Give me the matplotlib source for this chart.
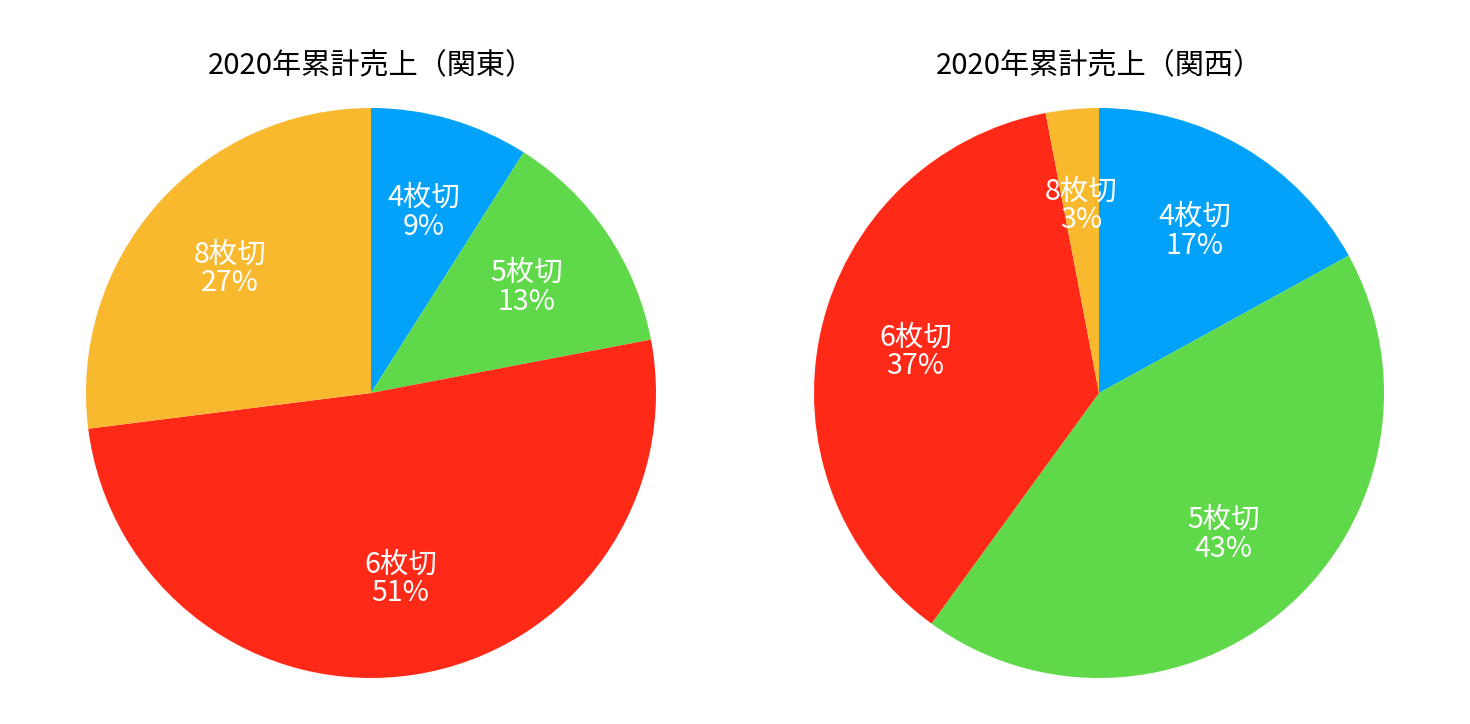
import matplotlib.pyplot as plt

plt.rcParams['font.family'] = ['Noto Sans CJK JP', 'DejaVu Sans']

categories = ['4枚切', '5枚切', '6枚切', '8枚切']
kanto = [9, 13, 51, 27]
kansai = [17, 43, 37, 3]
titles = ['2020年累計売上（関東）', '2020年累計売上（関西）']
colors = ['#03A2FA', '#5FD94A', '#FF2918', '#F8B92F']

W, H = 1470, 724
fig = plt.figure(figsize=(W / 100, H / 100), dpi=100)

R = 285
centers = [(371, 393), (1099, 393)]

for (cx, cy), vals, title in zip(centers, [kanto, kansai], titles):
    ax = fig.add_axes([(cx - R) / W, (H - cy - R) / H, 2 * R / W, 2 * R / H])
    total = sum(vals)
    labels = [f'{c}\n{v / total * 100:.0f}%' for c, v in zip(categories, vals)]
    wedges, texts = ax.pie(vals, colors=colors, startangle=90, counterclock=False,
                           labels=labels, labeldistance=0.66,
                           wedgeprops=dict(linewidth=0),
                           textprops=dict(color='white', fontsize=20.5, ha='center',
                                          va='center', linespacing=0.95))
    ax.set_xlim(-1, 1)
    ax.set_ylim(-1, 1)
    ax.set_aspect('equal')
    ax.axis('off')
    fig.text(cx / W, 1 - 66 / H, title, ha='center', va='center', fontsize=21)

fig.savefig('out.png', dpi=100)
